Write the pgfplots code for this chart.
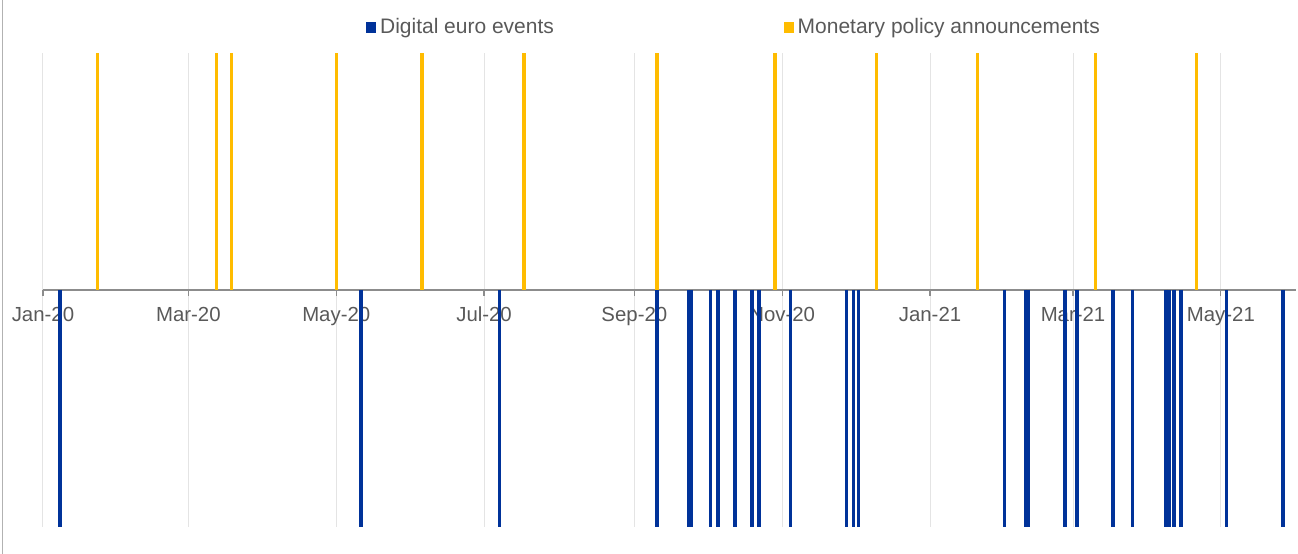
\documentclass[border=0pt]{standalone}
\usepackage{fontspec}
\setmainfont{Liberation Sans}
\usepackage{pgfplots}
\pgfplotsset{compat=1.18}
\definecolor{ecbblue}{HTML}{003299}
\definecolor{ecbyellow}{HTML}{FFBC00}
\definecolor{txtgray}{HTML}{595959}
\definecolor{gridgray}{HTML}{E4E4E4}
\definecolor{axgray}{HTML}{8C8C8C}
\begin{document}
\begin{tikzpicture}
\begin{axis}[
  scale only axis,
  width=627pt,
  height=237pt,
  xmin=0, xmax=517,
  ymin=-1, ymax=1,
  axis x line=middle,
  axis y line=none,
  x axis line style={-, draw=axgray, line width=0.8pt},
  xtick={0,60,121,182,244,305,366,425,486},
  xticklabels={Jan-20,Mar-20,May-20,Jul-20,Sep-20,Nov-20,Jan-21,Mar-21,May-21},
  ytick=\empty,
  tick align=outside,
  major tick length=3pt,
  tick style={draw=axgray, line width=0.6pt},
  xticklabel style={font=\fontsize{10.2}{12}\selectfont, text=txtgray, yshift=-2pt},
  xmajorgrids,
  grid style={draw=gridgray, line width=0.5pt},
  clip=false,
  legend columns=2,
  legend style={
    at={(0.2576,1.053)}, anchor=west,
    draw=none, fill=none,
    font=\fontsize{10.5}{12}\selectfont, text=txtgray,
    column sep=0pt,
    /tikz/every even column/.append style={column sep=113pt},
    inner xsep=0pt,
    nodes={inner xsep=2pt},
  },
]
\addplot[ycomb, draw=ecbblue, line width=1.7pt, mark=none,
  legend image code/.code={\fill[ecbblue, draw=none] (0pt,-2.8pt) rectangle (5pt,2.8pt);}]
  coordinates {
  (7.1,-1) (131.2,-1) (188.4,-1) (253.4,-1) (266.3,-1) (267.5,-1)
  (275.5,-1) (278.5,-1) (285.5,-1) (292.6,-1) (295.5,-1) (308.3,-1)
  (331.6,-1) (334.3,-1) (336.5,-1) (396.7,-1) (405.3,-1) (406.5,-1)
  (421.7,-1) (426.6,-1) (441.5,-1) (449.5,-1) (463.4,-1) (464.6,-1)
  (466.6,-1) (469.5,-1) (488.4,-1) (511.7,-1)
};
\addlegendentry{Digital euro events}
\addplot[ycomb, draw=ecbyellow, line width=1.7pt, mark=none,
  legend image code/.code={\fill[ecbyellow, draw=none] (0pt,-2.8pt) rectangle (5pt,2.8pt);}]
  coordinates {
  (22.5,1) (71.7,1) (77.8,1) (121.2,1) (156.4,1) (198.4,1)
  (253.3,1) (302.1,1) (344.0,1) (385.5,1) (434.3,1) (476.0,1)
};
\addlegendentry{Monetary policy announcements}
\coordinate (bl) at (rel axis cs:0,0);
\end{axis}
\pgfresetboundingbox
\path[use as bounding box] ([xshift=-21.5pt,yshift=-13.5pt]bl) rectangle ([xshift=628pt,yshift=263.5pt]bl);
\draw[draw=gray!60, line width=0.5pt] ([xshift=-20.25pt,yshift=-13.5pt]bl) -- ([xshift=-20.25pt,yshift=263.5pt]bl);
\end{tikzpicture}
\end{document}
